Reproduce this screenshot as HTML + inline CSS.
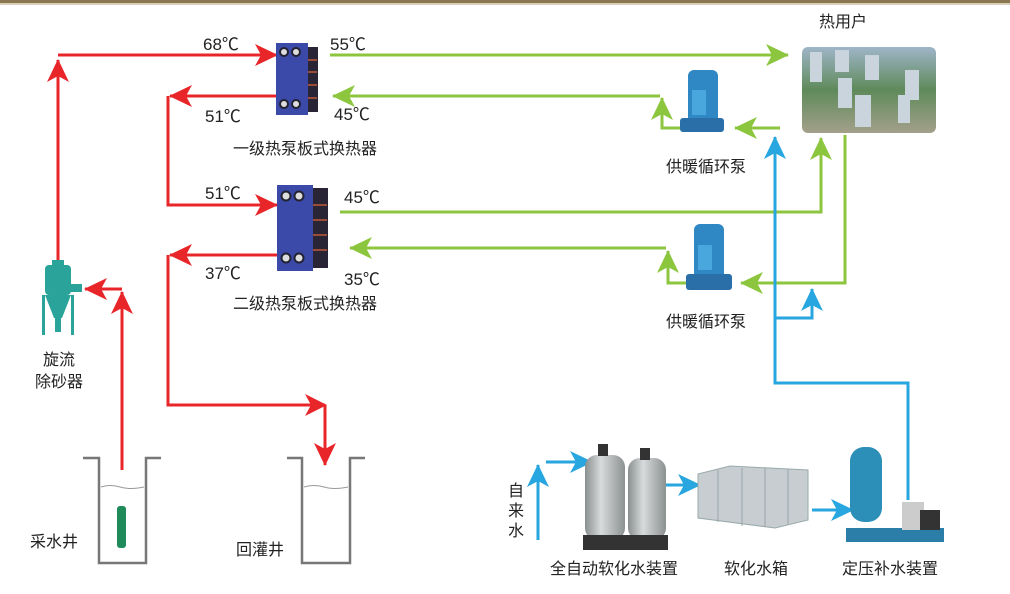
<!DOCTYPE html>
<html><head><meta charset="utf-8"><style>
html,body{margin:0;padding:0;background:#fff;}
svg{display:block}
text{font-family:"Liberation Sans","Noto Sans CJK SC",sans-serif;fill:#222;}
</style></head><body>
<svg width="1010" height="594" viewBox="0 0 1010 594" xmlns="http://www.w3.org/2000/svg">
<defs>
<marker id="ar" markerUnits="userSpaceOnUse" markerWidth="26" markerHeight="24" refX="22" refY="11" orient="auto"><path d="M0,0 L23,11 L0,22 L6,11 z" fill="#e8262a"/></marker>
<marker id="ag" markerUnits="userSpaceOnUse" markerWidth="26" markerHeight="24" refX="22" refY="11" orient="auto"><path d="M0,0 L23,11 L0,22 L6,11 z" fill="#8cc63e"/></marker>
<marker id="ab" markerUnits="userSpaceOnUse" markerWidth="26" markerHeight="24" refX="22" refY="11" orient="auto"><path d="M0,0 L23,11 L0,22 L6,11 z" fill="#27a6df"/></marker>
<linearGradient id="bg" x1="0" y1="0" x2="0" y2="1"><stop offset="0" stop-color="#9fb5c8"/><stop offset="0.5" stop-color="#5f8a5a"/><stop offset="1" stop-color="#a3a08a"/></linearGradient>
<linearGradient id="gt" x1="0" y1="0" x2="1" y2="0"><stop offset="0" stop-color="#8a8f90"/><stop offset="0.4" stop-color="#d8dbdb"/><stop offset="1" stop-color="#8b9090"/></linearGradient>
</defs>
<rect x="0" y="0" width="1010" height="3" fill="#8a7650"/>
<rect x="0" y="3" width="1010" height="2" fill="#d9cfb8"/>

<g fill="none" stroke="#e8262a" stroke-width="3">
<path d="M58,262 V60" marker-end="url(#ar)"/>
<path d="M58,55 H277" marker-end="url(#ar)"/>
<path d="M278,96 H170" marker-end="url(#ar)"/>
<path d="M168,96 V205 H277" marker-end="url(#ar)"/>
<path d="M278,255 H170" marker-end="url(#ar)"/>
<path d="M168,255 V405 H325"/>
<path d="M325,405 V465" marker-end="url(#ar)"/>
<path d="M122,470 V292" marker-end="url(#ar)"/>
<path d="M122,289 H85" marker-end="url(#ar)"/>
</g>
<path d="M305,394 L327,405 L305,416 L311,405z" fill="#e8262a"/>

<g fill="none" stroke="#8cc63e" stroke-width="3">
<path d="M330,55 H788" marker-end="url(#ag)"/>
<path d="M660,96 H333" marker-end="url(#ag)"/>
<path d="M681,128 H662 V98" marker-end="url(#ag)"/>
<path d="M780,128 H735" marker-end="url(#ag)"/>
<path d="M340,212 H821 V138" marker-end="url(#ag)"/>
<path d="M666,248 H350" marker-end="url(#ag)"/>
<path d="M688,283 H668 V251" marker-end="url(#ag)"/>
<path d="M845,135 V283 H741" marker-end="url(#ag)"/>
</g>

<g fill="none" stroke="#27a6df" stroke-width="3">
<path d="M908,500 V383 H775 V137" marker-end="url(#ab)"/>
<path d="M775,318 H812 V289" marker-end="url(#ab)"/>
<path d="M538,540 V465" marker-end="url(#ab)"/>
<path d="M546,462 H592" marker-end="url(#ab)"/>
<path d="M665,485 H700" marker-end="url(#ab)"/>
<path d="M812,510 H853" marker-end="url(#ab)"/>
</g>

<g>
<rect x="300" y="47" width="18" height="65" fill="#2a2536"/>
<g stroke="#c05a3a" stroke-width="1.5"><line x1="302" y1="60" x2="317" y2="60"/><line x1="302" y1="72" x2="317" y2="72"/><line x1="302" y1="85" x2="317" y2="85"/><line x1="302" y1="98" x2="317" y2="98"/></g>
<rect x="276" y="43" width="32" height="72" fill="#3b4aa8"/>
<circle cx="284" cy="52" r="4" fill="#ddd" stroke="#223" stroke-width="2"/><circle cx="296" cy="52" r="4" fill="#ddd" stroke="#223" stroke-width="2"/>
<circle cx="284" cy="104" r="4" fill="#ddd" stroke="#223" stroke-width="2"/><circle cx="296" cy="104" r="4" fill="#ddd" stroke="#223" stroke-width="2"/>
<rect x="308" y="188" width="20" height="80" fill="#2a2536"/>
<g stroke="#c05a3a" stroke-width="1.5"><line x1="310" y1="205" x2="327" y2="205"/><line x1="310" y1="220" x2="327" y2="220"/><line x1="310" y1="235" x2="327" y2="235"/><line x1="310" y1="250" x2="327" y2="250"/></g>
<rect x="277" y="185" width="36" height="86" fill="#3b4aa8"/>
<circle cx="286" cy="196" r="4.5" fill="#ddd" stroke="#223" stroke-width="2"/><circle cx="299" cy="196" r="4.5" fill="#ddd" stroke="#223" stroke-width="2"/>
<circle cx="286" cy="258" r="4.5" fill="#ddd" stroke="#223" stroke-width="2"/><circle cx="299" cy="258" r="4.5" fill="#ddd" stroke="#223" stroke-width="2"/>
</g>

<g fill="#2aa39a">
<rect x="52" y="260" width="12" height="5"/>
<rect x="45" y="265" width="26" height="30" rx="4"/>
<rect x="70" y="284" width="12" height="8"/>
<polygon points="45,295 71,295 62,318 54,318"/>
<rect x="42" y="295" width="3" height="40"/><rect x="71" y="295" width="3" height="40"/>
<rect x="55" y="318" width="6" height="14"/>
</g>

<g fill="#2f87c4">
<rect x="688" y="70" width="30" height="55" rx="6"/>
<rect x="680" y="118" width="44" height="14" rx="3" fill="#2a6fa8"/>
<rect x="692" y="90" width="14" height="25" fill="#4aa7de"/>
<rect x="694" y="224" width="30" height="56" rx="6"/>
<rect x="686" y="274" width="46" height="16" rx="3" fill="#2a6fa8"/>
<rect x="698" y="245" width="14" height="25" fill="#4aa7de"/>
</g>

<rect x="802" y="47" width="134" height="86" fill="url(#bg)" rx="6"/>
<g fill="#c9d4dc"><rect x="810" y="52" width="12" height="30"/><rect x="835" y="50" width="14" height="22"/><rect x="865" y="55" width="14" height="25"/><rect x="905" y="70" width="14" height="30"/><rect x="838" y="78" width="14" height="30"/><rect x="855" y="95" width="16" height="32"/><rect x="898" y="95" width="12" height="28"/></g>

<g fill="none" stroke="#777" stroke-width="2.5">
<path d="M83,458 H99 V563 H146 V458 H161"/>
<path d="M287,458 H302 V563 H350 V458 H365"/>
</g>
<g stroke="#999" stroke-width="1" fill="none"><path d="M101,487 Q110,484 120,487 T144,487"/><path d="M304,487 Q314,484 324,487 T348,487"/></g>
<rect x="117" y="506" width="9" height="42" rx="3" fill="#1f8a5a"/>

<rect x="585" y="455" width="40" height="85" rx="12" fill="url(#gt)"/>
<rect x="628" y="458" width="38" height="82" rx="12" fill="url(#gt)"/>
<rect x="598" y="444" width="10" height="12" fill="#333"/><rect x="640" y="448" width="10" height="12" fill="#333"/>
<rect x="583" y="535" width="85" height="15" fill="#333"/>
<polygon points="698,474 730,466 808,470 808,520 775,528 698,518" fill="#c7cdd1" stroke="#9aa" stroke-width="1"/>
<g stroke="#9aa5ab" stroke-width="1"><line x1="718" y1="470" x2="718" y2="522"/><line x1="742" y1="468" x2="742" y2="526"/><line x1="765" y1="468" x2="765" y2="527"/><line x1="788" y1="469" x2="788" y2="524"/></g>
<rect x="850" y="447" width="32" height="75" rx="14" fill="#2c8fb8"/>
<rect x="846" y="528" width="98" height="14" fill="#2a7ea8"/>
<rect x="902" y="502" width="22" height="28" fill="#ccc"/>
<rect x="920" y="510" width="20" height="20" fill="#333"/>

<g font-size="17">
<text x="203" y="50">68℃</text>
<text x="330" y="50">55℃</text>
<text x="205" y="122">51℃</text>
<text x="334" y="120">45℃</text>
<text x="205" y="199">51℃</text>
<text x="344" y="203">45℃</text>
<text x="205" y="279">37℃</text>
<text x="344" y="285">35℃</text>
</g>
<g font-size="16">
<text x="233" y="154">一级热泵板式换热器</text>
<text x="233" y="309">二级热泵板式换热器</text>
<text x="843" y="27" text-anchor="middle">热用户</text>
<text x="706" y="172" text-anchor="middle">供暖循环泵</text>
<text x="706" y="327" text-anchor="middle">供暖循环泵</text>
<text x="59" y="365" text-anchor="middle">旋流</text>
<text x="59" y="387" text-anchor="middle">除砂器</text>
<text x="30" y="547">采水井</text>
<text x="236" y="555">回灌井</text>
<text x="508" y="496">自</text>
<text x="508" y="516">来</text>
<text x="508" y="536">水</text>
<text x="614" y="574" text-anchor="middle">全自动软化水装置</text>
<text x="756" y="574" text-anchor="middle">软化水箱</text>
<text x="890" y="574" text-anchor="middle">定压补水装置</text>
</g>
</svg>
</body></html>
